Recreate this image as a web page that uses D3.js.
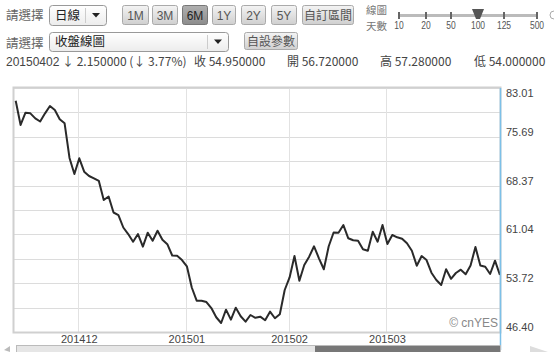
<!DOCTYPE html>
<html><head><meta charset="utf-8">
<script src="https://cdn.jsdelivr.net/npm/d3@7"></script>
<style>
html,body{margin:0;padding:0;background:#fff;}
svg{display:block;font-family:"Liberation Sans",Arial,"Noto Sans CJK TC",sans-serif;}
</style></head><body>
<svg id="c" width="554" height="352"></svg>
<script>
// ---- data ----
const closes = [81.10,77.46,79.30,79.21,78.46,77.98,79.21,80.31,79.71,78.31,
77.71,72.51,70.11,72.46,70.45,69.81,69.46,69.06,66.21,66.73,
64.33,63.95,62.08,61.10,59.95,61.10,59.20,61.30,60.10,61.60,
60.25,59.57,57.88,57.83,57.20,56.26,53.08,51.10,51.10,50.90,
50.00,48.61,47.75,49.75,48.25,50.05,48.76,47.95,48.95,48.53,
48.70,48.16,49.45,48.46,49.07,52.70,54.58,57.80,54.10,56.45,
57.70,59.26,57.46,55.82,59.26,61.33,61.30,62.45,60.46,60.16,
60.10,58.81,58.60,61.45,59.95,62.45,59.60,60.95,60.61,60.40,
59.71,58.60,56.35,57.80,57.20,55.30,54.20,53.45,55.81,54.38,
55.25,55.75,55.07,56.38,59.15,56.38,56.20,55.10,57.10,54.95];
const monthTickIndex = [13,35,56,76];
const monthTickLabels = ["201412","201501","201502","201503"];
const yTickValues = [46.40,53.72,61.04,68.37,75.69,83.01];
const rangeButtons = ["1M","3M","6M","1Y","2Y","5Y"];
const sliderLabels = ["10","20","50","100","125","500"];
const quote = {date:"20150402", chg:"↓ 2.150000 (↓ 3.77%)", close:"收 54.950000", open:"開 56.720000", high:"高 57.280000", low:"低 54.000000"};

const svg = d3.select("#c");
const cjk = '"Noto Sans CJK TC","Liberation Sans",sans-serif';

// ---- defs ----
const defs = svg.append("defs");
const g1 = defs.append("linearGradient").attr("id","btn").attr("x1",0).attr("y1",0).attr("x2",0).attr("y2",1);
g1.append("stop").attr("offset","0%").attr("stop-color","#f4f4f4");
g1.append("stop").attr("offset","100%").attr("stop-color","#cfcfcf");
const g2 = defs.append("linearGradient").attr("id","btnSel").attr("x1",0).attr("y1",0).attr("x2",0).attr("y2",1);
g2.append("stop").attr("offset","0%").attr("stop-color","#b0b0b0");
g2.append("stop").attr("offset","100%").attr("stop-color","#8c8c8c");
const g3 = defs.append("linearGradient").attr("id","sel").attr("x1",0).attr("y1",0).attr("x2",0).attr("y2",1);
g3.append("stop").attr("offset","0%").attr("stop-color","#ffffff");
g3.append("stop").attr("offset","100%").attr("stop-color","#ececec");

// ---- top controls ----
function label(x,y,t){ svg.append("text").attr("x",x).attr("y",y).attr("font-family",cjk).attr("font-size",12.5).attr("fill","#666").text(t); }
label(6,20,"請選擇");
label(6,48,"請選擇");

function selectBox(x,y,w,h,t){
  svg.append("rect").attr("x",x+0.5).attr("y",y+0.5).attr("width",w).attr("height",h).attr("rx",3)
    .attr("fill","url(#sel)").attr("stroke","#999");
  svg.append("text").attr("x",x+6).attr("y",y+h/2+4.5).attr("font-family",cjk).attr("font-size",12.5).attr("fill","#222").text(t);
  svg.append("line").attr("x1",x+w-20.5).attr("x2",x+w-20.5).attr("y1",y+3).attr("y2",y+h-2).attr("stroke","#ccc");
  const cx = x+w-10, cy = y+h/2;
  svg.append("path").attr("d",`M${cx-4},${cy-2}L${cx+4},${cy-2}L${cx},${cy+2.5}Z`).attr("fill","#222");
}
selectBox(49,5,57,20,"日線");
selectBox(49,32,179,19,"收盤線圖");

const btnX = [122,152,182,212,241,271];
const btnW = [26,25,25,23,24,25];
rangeButtons.forEach((b,i)=>{
  const sel = b==="6M";
  svg.append("rect").attr("x",btnX[i]+0.5).attr("y",5.5).attr("width",btnW[i]).attr("height",19).attr("rx",2)
    .attr("fill",sel?"url(#btnSel)":"url(#btn)").attr("stroke",sel?"#777":"#aaa");
  svg.append("text").attr("x",btnX[i]+btnW[i]/2+0.5).attr("y",20).attr("text-anchor","middle")
    .attr("font-size",12).attr("fill",sel?"#222":"#555").text(b);
});
function textBtn(x,y,w,h,t){
  svg.append("rect").attr("x",x+0.5).attr("y",y+0.5).attr("width",w).attr("height",h).attr("rx",2)
    .attr("fill","url(#btn)").attr("stroke","#aaa");
  svg.append("text").attr("x",x+w/2+0.5).attr("y",y+h/2+5).attr("text-anchor","middle")
    .attr("font-family",cjk).attr("font-size",12).attr("fill","#555").text(t);
}
textBtn(302,5,51,19,"自訂區間");
textBtn(244,32,53,17,"自設參數");

svg.append("text").attr("x",366).attr("y",14).attr("font-family",cjk).attr("font-size",10.5).attr("fill","#777").text("線圖");
svg.append("text").attr("x",366).attr("y",30).attr("font-family",cjk).attr("font-size",10.5).attr("fill","#777").text("天數");

// slider
const sliderX = [399,426,451,478,504,537];
svg.append("line").attr("x1",398).attr("x2",538).attr("y1",15.5).attr("y2",15.5).attr("stroke","#bbb").attr("stroke-width",3);
sliderLabels.forEach((s,i)=>{
  svg.append("rect").attr("x",sliderX[i]-1).attr("y",12).attr("width",2).attr("height",7).attr("fill","#666");
  svg.append("text").attr("x",sliderX[i]).attr("y",29).attr("text-anchor","middle").attr("font-size",10)
    .attr("fill","#555").attr("transform",`translate(${sliderX[i]},0) scale(0.85,1) translate(${-sliderX[i]},0)`).text(s);
});
svg.append("path").attr("d","M472,9L484,9L480,19L476,19Z").attr("fill","#555");
svg.append("circle").attr("cx",554).attr("cy",15).attr("r",4).attr("fill","none").attr("stroke","#aaa");

// quote line
const qy = 66;
svg.append("text").attr("x",6).attr("y",qy).attr("font-size",12).attr("fill","#444").text(quote.date);
svg.append("text").attr("x",62).attr("y",qy).attr("font-family",cjk).attr("font-size",12).attr("fill","#444").text(quote.chg);
svg.append("text").attr("x",194).attr("y",qy).attr("font-family",cjk).attr("font-size",12).attr("fill","#444").text(quote.close);
svg.append("text").attr("x",287).attr("y",qy).attr("font-family",cjk).attr("font-size",12).attr("fill","#444").text(quote.open);
svg.append("text").attr("x",380).attr("y",qy).attr("font-family",cjk).attr("font-size",12).attr("fill","#444").text(quote.high);
svg.append("text").attr("x",474).attr("y",qy).attr("font-family",cjk).attr("font-size",12).attr("fill","#444").text(quote.low);

// ---- chart ----
const L=14, R=500, T=88, B=332;
const x = d3.scaleLinear().domain([0, closes.length-1]).range([15.7, 499.9]);
const y = d3.scaleLinear().domain([yTickValues[0], yTickValues[yTickValues.length-1]]).range([B, T]);

// gridlines (ticks and midpoints)
const gridVals = [];
yTickValues.forEach((v,i)=>{ gridVals.push(v); if(i<yTickValues.length-1) gridVals.push((v+yTickValues[i+1])/2); });
svg.append("g").selectAll("line").data(gridVals).join("line")
  .attr("x1",L).attr("x2",R).attr("y1",d=>Math.round(y(d))+0.5).attr("y2",d=>Math.round(y(d))+0.5)
  .attr("stroke","#dcdcdc");
svg.append("g").selectAll("line").data(monthTickIndex).join("line")
  .attr("x1",d=>Math.round(x(d))-0.5).attr("x2",d=>Math.round(x(d))-0.5).attr("y1",T).attr("y2",B)
  .attr("stroke","#e2e2e2");
// frame
svg.append("rect").attr("x",L-0.5).attr("y",T-0.5).attr("width",R-L+1).attr("height",B-T+1)
  .attr("fill","none").attr("stroke","#d0d0d0").attr("stroke-width",2);

// y labels
svg.append("g").selectAll("text").data(yTickValues).join("text")
  .attr("x",506).attr("y",(d,i)=> i===yTickValues.length-1 ? y(d)+9 : y(d)-1)
  .attr("font-size",11).attr("fill","#444").text(d=>d.toFixed(2));
// x labels
svg.append("g").selectAll("text").data(monthTickIndex).join("text")
  .attr("x",d=>x(d)).attr("y",343).attr("text-anchor","middle")
  .attr("font-size",11).attr("fill","#444").text((d,i)=>monthTickLabels[i]);

// watermark
svg.append("text").attr("x",498).attr("y",327).attr("text-anchor","end").attr("font-size",12)
  .attr("fill","#888").text("© cnYES");

// line
svg.append("path").datum(closes)
  .attr("d", d3.line().x((d,i)=>x(i)).y(d=>y(d)))
  .attr("fill","none").attr("stroke","#2a2a2a").attr("stroke-width",2).attr("stroke-linejoin","round");

// cursor line
svg.append("line").attr("x1",500.5).attr("x2",500.5).attr("y1",T).attr("y2",350)
  .attr("stroke","#7cc0e8").attr("stroke-width",1.5);

// bottom navigator
svg.append("rect").attr("x",16.5).attr("y",345.5).attr("width",484).attr("height",8).attr("fill","#e6e6e6").attr("stroke","#bbb");
svg.append("rect").attr("x",315).attr("y",346).attr("width",185).attr("height",7).attr("fill","#777");
svg.append("path").attr("d","M4,350L10,346L10,352Z").attr("fill","#bbb");
svg.append("path").attr("d","M530,346L548,352L530,352Z").attr("fill","#ddd");
</script>
</body></html>
